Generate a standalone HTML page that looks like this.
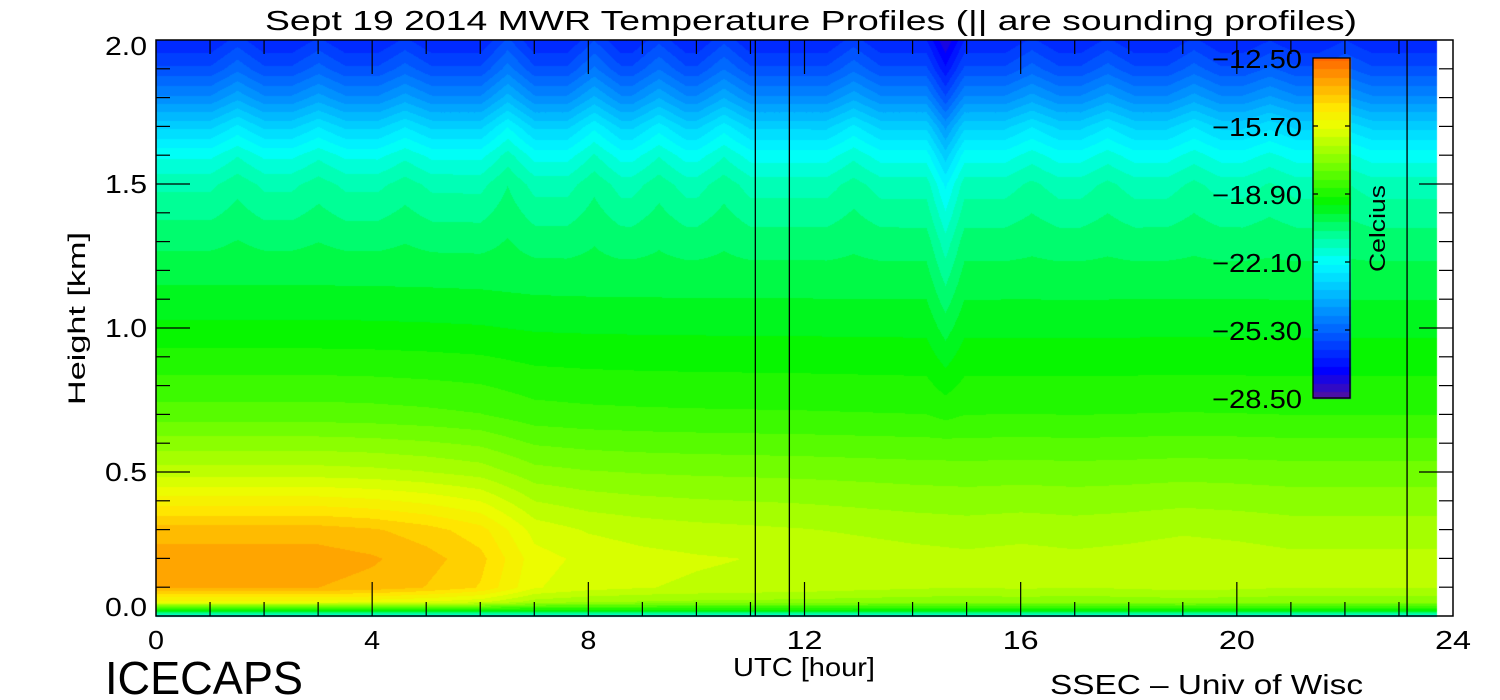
<!DOCTYPE html>
<html><head><meta charset="utf-8">
<style>
html,body{margin:0;padding:0;background:#fff;}
#wrap{position:relative;width:1500px;height:700px;overflow:hidden;font-family:"Liberation Sans",sans-serif;}
canvas{position:absolute;left:0;top:0;}
svg{position:absolute;left:0;top:0;}
text{font-family:"Liberation Sans",sans-serif;fill:#000;}
</style></head>
<body>
<div id="wrap">
<canvas id="field" width="1500" height="700"></canvas>
<svg id="ov" width="1500" height="700"></svg>
</div>
<script>
// ---- data ----
const heights   = [0.0, 0.02, 0.05, 0.1, 0.2, 0.3, 0.4, 0.5, 0.7, 1.0, 1.3, 1.5, 1.6, 1.7, 1.8, 1.9, 2.0];
const earlyProfile = [-22.3, -19.3, -15.6, -13.8, -13.6, -14.0, -15.2, -16.4, -18.0, -19.3, -20.3, -21.1, -21.9, -23.1, -24.5, -25.7, -26.6];
const lateProfile  = [-22.3, -19.3, -17.3, -16.6, -16.5, -16.8, -17.2, -17.6, -18.6, -19.5, -20.4, -21.2, -22.0, -23.1, -24.5, -25.7, -26.6];
const hours     = [0,1,2,3,4,5,6,7,8,9,10,11,12,13,14,15,16,17,18,19,20,21,22,23,24];
const warmWeight= [1,1,1,1,0.95,0.85,0.7,0.3,0.2,0.15,0.12,0.1,0.08,0.05,0.02,0,0.02,0,0.02,0.05,0.03,0,0,0,0];
const rippleTimes = [1.5, 3.0, 4.6, 6.5, 8.1, 9.3, 10.5, 12.9, 16.2, 17.6, 19.2, 20.6, 22.0];
const rippleAmps  = [0.6, 0.5, 0.5, 0.9, 0.8, 0.7, 0.7, 0.6, 0.5, 0.5, 0.5, 0.4, 0.4];
const dipTimes = [14.6];
const dipAmps  = [-1.2];
const soundingLines = [11.09, 11.72, 23.15];
const dataEnd = 23.7;
const cbLabels = ["-12.50","-15.70","-18.90","-22.10","-25.30","-28.50"];
const cbMin = -28.5, cbMax = -12.5;
const xTicks = [0,4,8,12,16,20,24];
const yTicks = [0.0,0.5,1.0,1.5,2.0];

// ---- axes ----
const X0=156, X1=1453, Y0=616, Y1=40;
const xs = t => X0 + (t/24)*(X1-X0);
const ys = h => Y0 - (h/2)*(Y0-Y1);

const stops=[[-28.5,[80,16,160]],[-27.2,[0,0,255]],[-25.3,[0,100,255]],[-23.5,[0,190,255]],[-22.1,[0,255,255]],[-20.8,[0,255,150]],[-19.3,[0,245,0]],[-17.5,[120,255,0]],[-15.7,[235,255,0]],[-14.8,[255,230,0]],[-13.6,[255,165,0]],[-12.5,[255,100,0]]];
function cmap(v){
  v=Math.max(cbMin,Math.min(cbMax,v));
  for(let i=1;i<stops.length;i++){ if(v<=stops[i][0]){const a=stops[i-1],b=stops[i];const f=(v-a[0])/(b[0]-a[0]);return a[1].map((c,k)=>Math.round(c+(b[1][k]-c)*f));}}
  return stops[stops.length-1][1];
}
function interp(arrX,arrY,x){
  if(x<=arrX[0])return arrY[0];
  for(let i=1;i<arrX.length;i++){if(x<=arrX[i]){const f=(x-arrX[i-1])/(arrX[i]-arrX[i-1]);return arrY[i-1]+(arrY[i]-arrY[i-1])*f;}}
  return arrY[arrY.length-1];
}
function temp(t,h){
  const w=interp(hours,warmWeight,t);
  let v=w*interp(heights,earlyProfile,h)+(1-w)*interp(heights,lateProfile,h);
  const up=Math.max(0,Math.min(1,(h-1.2)/0.5));
  for(let i=0;i<rippleTimes.length;i++){const d=Math.abs(t-rippleTimes[i]);if(d<0.5)v+=rippleAmps[i]*(1-d/0.5)*up;}
  for(let i=0;i<dipTimes.length;i++){const d=Math.abs(t-dipTimes[i]);if(d<0.35)v+=dipAmps[i]*(1-d/0.35)*Math.max(0,Math.min(1,(h-0.6)/1.0));}
  return Math.round(v/0.4)*0.4;
}
const cv=document.getElementById('field');const ctx=cv.getContext('2d');
const img=ctx.createImageData(1500,700);
const xe=Math.round(xs(dataEnd));
for(let y=Y1;y<=Y0;y++){const h=(Y0-y)/(Y0-Y1)*2;for(let x=X0;x<xe;x++){const t=(x-X0)/(X1-X0)*24;const c=cmap(temp(t,h));const p=(y*1500+x)*4;img.data[p]=c[0];img.data[p+1]=c[1];img.data[p+2]=c[2];img.data[p+3]=255;}}
const CBX0=1313,CBX1=1350,CBY0=58,CBY1=398;
for(let y=CBY0;y<=CBY1;y++){const v=cbMax-(y-CBY0)/(CBY1-CBY0)*(cbMax-cbMin);const c=cmap(Math.round(v/0.4)*0.4);for(let x=CBX0;x<=CBX1;x++){const p=(y*1500+x)*4;img.data[p]=c[0];img.data[p+1]=c[1];img.data[p+2]=c[2];img.data[p+3]=255;}}
ctx.putImageData(img,0,0);

// ---- overlay ----
const NS='http://www.w3.org/2000/svg';const svg=document.getElementById('ov');
function mk(tag,attrs,txt){const e=document.createElementNS(NS,tag);for(const k in attrs)e.setAttribute(k,attrs[k]);if(txt!==undefined)e.textContent=txt;svg.appendChild(e);return e;}
let e;
e=mk('rect',{x:X0,y:Y1,width:X1-X0,height:Y0-Y1,fill:'none',stroke:'#000','stroke-width':1.5});


soundingLines.forEach(t=>{
  e=mk('line',{x1:xs(t),x2:xs(t),y1:Y1,y2:Y0,stroke:'#000','stroke-width':1.3});
  
  
});
for(let hr=1;hr<24;hr++){const maj=hr%4===0;const L=maj?34:14;const x=xs(hr);
  e=mk('line',{x1:x,x2:x,y1:Y0,y2:Y0-L,stroke:'#000','stroke-width':1.2});
  
  
  e=mk('line',{x1:x,x2:x,y1:Y1,y2:Y1+L,stroke:'#000','stroke-width':1.2});
  
  }
xTicks.forEach(t=>{e=mk('text',{x:xs(t),y:649,'font-size':26,'text-anchor':'middle',textLength:t<10?16:36,lengthAdjust:'spacingAndGlyphs'},String(t));
  
  });
for(let i=1;i<20;i++){const h=i*0.1;const maj=i%5===0;const L=maj?34:14;const y=ys(h);
  e=mk('line',{x1:X0,x2:X0+L,y1:y,y2:y,stroke:'#000','stroke-width':1.2});
  
  
  e=mk('line',{x1:X1,x2:X1-L,y1:y,y2:y,stroke:'#000','stroke-width':1.2});
  
  }
yTicks.forEach(h=>{const y=Math.max(ys(h)+9,55);e=mk('text',{x:105,y:h===0?616:y,'font-size':26,textLength:42,lengthAdjust:'spacingAndGlyphs'},h.toFixed(1));
  
  });
e=mk('rect',{x:CBX0,y:CBY0,width:CBX1-CBX0,height:CBY1-CBY0,fill:'none',stroke:'#000','stroke-width':1.3});


cbLabels.forEach((s,i)=>{const y=CBY0+i*(CBY1-CBY0)/(cbLabels.length-1);
  e=mk('text',{x:1212,y:y+10,'font-size':26,textLength:90,lengthAdjust:'spacingAndGlyphs'},'\u2212'+s.slice(1));
  
  
  if(i>0&&i<cbLabels.length-1){e=mk('path',{d:`M${CBX0} ${y}h5M${CBX1} ${y}h-5`,stroke:'#000','stroke-width':1.2});
  
  }});
e=mk('text',{x:1385,y:272,'font-size':22,transform:'rotate(-90 1385 272)',textLength:87,lengthAdjust:'spacingAndGlyphs'},'Celcius');


e=mk('text',{x:265,y:30,'font-size':28,textLength:1092,lengthAdjust:'spacingAndGlyphs'},'Sept 19 2014 MWR Temperature Profiles (|| are sounding profiles)');


e=mk('text',{x:85,y:405,'font-size':24,transform:'rotate(-90 85 405)',textLength:173,lengthAdjust:'spacingAndGlyphs'},'Height [km]');


e=mk('text',{x:733,y:676,'font-size':26,textLength:142,lengthAdjust:'spacingAndGlyphs'},'UTC [hour]');


e=mk('text',{x:105,y:694,'font-size':46,textLength:198,lengthAdjust:'spacingAndGlyphs'},'ICECAPS');


e=mk('text',{x:1050,y:694,'font-size':28,textLength:313,lengthAdjust:'spacingAndGlyphs'},'SSEC \u2013 Univ of Wisc');


</script>
</body></html>
